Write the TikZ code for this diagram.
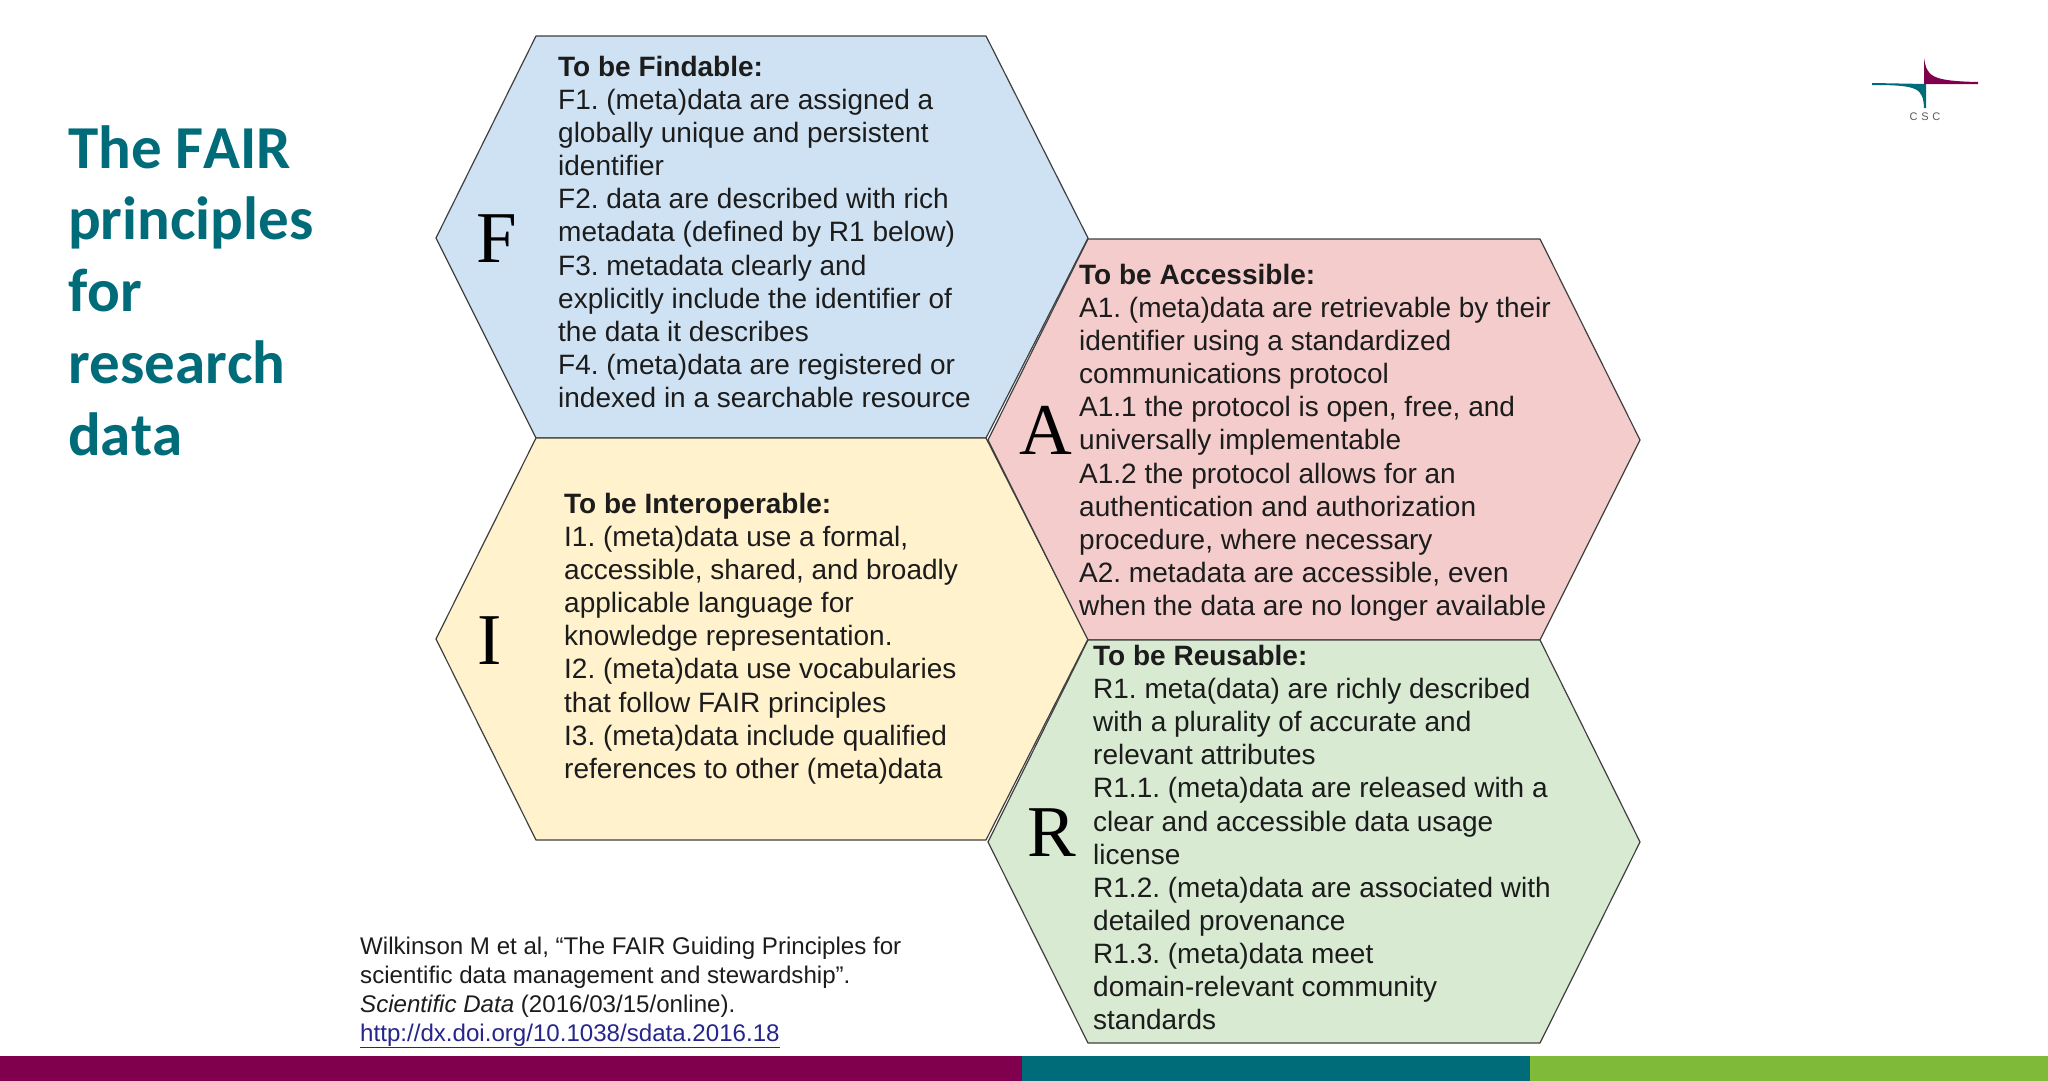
\documentclass[tikz,border=0pt]{standalone}
\usepackage{fontspec}
\setmainfont{Liberation Sans}
\newfontfamily\titlefont[Kerning=Off]{Carlito}
\newfontfamily\lettfont{Liberation Serif}
\definecolor{cscred}{HTML}{80004D}
\definecolor{cscteal}{HTML}{006C7A}
\definecolor{cscgreen}{HTML}{7FBA38}
\definecolor{hexblue}{HTML}{CFE2F3}
\definecolor{hexpink}{HTML}{F4CCCC}
\definecolor{hexyellow}{HTML}{FFF2CC}
\definecolor{hexmint}{HTML}{D9EAD3}
\definecolor{inkgrey}{HTML}{1C1C1C}
\definecolor{linkblue}{HTML}{25258C}
\tikzset{
  hexcell/.style={draw=black!75, line width=1.2pt, line join=round},
  body/.style={anchor=north west, inner sep=0pt, align=left, text=inkgrey, font=\frenchspacing\fontsize{28}{33.1}\selectfont},
  cite/.style={anchor=north west, inner sep=0pt, align=left, text=inkgrey, font=\frenchspacing\fontsize{24.1}{28.8}\selectfont},
  letter/.style={inner sep=0pt, text=black, font=\lettfont\fontsize{73}{73}\selectfont},
  heading/.style={anchor=north west, inner sep=0pt, align=left, text=cscteal, font=\titlefont\bfseries\fontsize{61}{71.8}\selectfont}
}
\begin{document}
\begin{tikzpicture}[x=1pt, y=-1pt]
  \useasboundingbox (0,0) rectangle (2048,1081);
  \fill [white] (0,0) rectangle (2048,1081);
  % bottom bars
  \fill [cscred] (0,1056) rectangle (1022,1081);
  \fill [cscteal] (1022,1056) rectangle (1530,1081);
  \fill [cscgreen] (1530,1056) rectangle (2048,1081);
  % hexagons
  \draw [hexcell, fill=hexblue] (536,36) -- (986,36) -- (1088,238) -- (986,438) -- (536,438) -- (436,238) -- cycle;
  \draw [hexcell, fill=hexyellow] (536,438) -- (986,438) -- (1088,639) -- (986,840) -- (536,840) -- (436,639) -- cycle;
  \draw [hexcell, fill=hexpink] (1088,239) -- (1540,239) -- (1640,440) -- (1540,640) -- (1088,640) -- (988,440) -- cycle;
  \draw [hexcell, fill=hexmint] (1088,640) -- (1540,640) -- (1640,842) -- (1540,1043) -- (1088,1043) -- (988,842) -- cycle;
  \node [letter] (lf) at (497,239) {F};
  \node [letter] (la) at (1046,430) {A};
  \node [letter] (li) at (490,641) {I};
  \node [letter] (lr) at (1052,833) {R};
  \node [body] (tf) at (558,56) {\textbf{To be Findable:}\\
    F1. (meta)data are assigned a\\
    globally unique and persistent\\
    identifier\\
    F2. data are described with rich\\
    metadata (defined by R1 below)\\
    F3. metadata clearly and\\
    explicitly include the identifier of\\
    the data it describes\\
    F4. (meta)data are registered or\\
    indexed in a searchable resource};
  \node [body] (ta) at (1079,264) {\textbf{To be Accessible:}\\
    A1. (meta)data are retrievable by their\\
    identifier using a standardized\\
    communications protocol\\
    A1.1 the protocol is open, free, and\\
    universally implementable\\
    A1.2 the protocol allows for an\\
    authentication and authorization\\
    procedure, where necessary\\
    A2. metadata are accessible, even\\
    when the data are no longer available};
  \node [body] (ti) at (564,493) {\textbf{To be Interoperable:}\\
    I1. (meta)data use a formal,\\
    accessible, shared, and broadly\\
    applicable language for\\
    knowledge representation.\\
    I2. (meta)data use vocabularies\\
    that follow FAIR principles\\
    I3. (meta)data include qualified\\
    references to other (meta)data};
  \node [body] (tr) at (1093,645) {\textbf{To be Reusable:}\\
    R1. meta(data) are richly described\\
    with a plurality of accurate and\\
    relevant attributes\\
    R1.1. (meta)data are released with a\\
    clear and accessible data usage\\
    license\\
    R1.2. (meta)data are associated with\\
    detailed provenance\\
    R1.3. (meta)data meet\\
    domain-relevant community\\
    standards};
  \node [heading] (title) at (68,125) {The FAIR\\principles\\for\\research\\data};
  \node [cite] (source) at (360,937) {Wilkinson M et al, “The FAIR Guiding Principles for\\
    scientific data management and stewardship”.\\
    \textit{Scientific Data} (2016/03/15/online).\\
    \textcolor{linkblue}{\underline{http://dx.doi.org/10.1038/sdata.2016.18}}};
  % logo
  \fill [cscred] (1924,58) .. controls (1927,76) and (1930,81) .. (1978,82) -- (1978,84) -- (1924,84) -- cycle;
  \fill [cscteal] (1872,83) -- (1926,84) -- (1926,108) -- (1924,108) .. controls (1923,88) and (1918,85) .. (1872,85) -- cycle;
  \node [inner sep=0pt, text=black!65, font=\fontsize{11}{11}\selectfont] (csc) at (1925,117) {C\,\,S\,\,C};
\end{tikzpicture}
\end{document}
